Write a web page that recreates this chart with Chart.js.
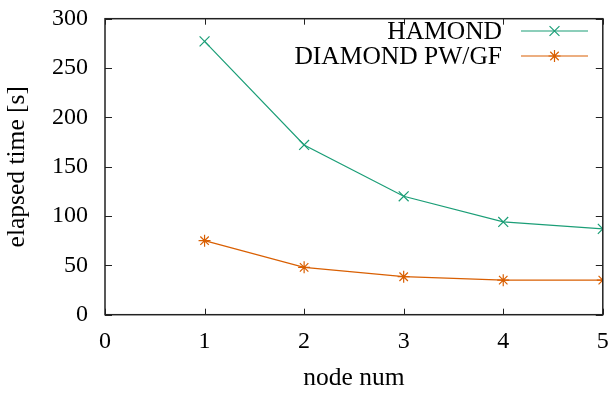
<!DOCTYPE html>
<html>
<head>
<meta charset="utf-8">
<script src="https://cdn.jsdelivr.net/npm/chart.js@4.4.1/dist/chart.umd.min.js"></script>
<style>
    html, body { margin: 0; padding: 0; background: #fff; }
    #wrap { width: 611px; height: 394px; }
</style>
</head>
<body>
<div id="wrap"><canvas id="chart"></canvas></div>
<script>
// data
const nodeNums = [1, 2, 3, 4, 5];
const hamondTimes = [277, 172, 120, 94, 87];
const diamondTimes = [75, 48, 38.5, 35, 35];
const seriesNames = ['HAMOND', 'DIAMOND PW/GF'];
const xTicks = [0, 1, 2, 3, 4, 5];
const yTicks = [0, 50, 100, 150, 200, 250, 300];

const FONT = "'Liberation Serif', 'DejaVu Serif', serif";
const TICK_SIZE = 24;
const TEXT_SIZE = 25.5;
const GREEN = '#1b9e77';
const ORANGE = '#d95f02';
const AXIS = '#222';

// gnuplot style frame: full box with inward ticks on every side
const framePlugin = {
    id: 'frame',
    afterDatasetsDraw(chart) {
        const { ctx, chartArea: a, scales } = chart;
        ctx.save();
        ctx.strokeStyle = AXIS;
        ctx.lineWidth = 1;
        ctx.beginPath();
        xTicks.forEach(v => {
            const px = Math.round(scales.x.getPixelForValue(v)) + 0.5;
            ctx.moveTo(px, a.bottom); ctx.lineTo(px, a.bottom - 6);
            ctx.moveTo(px, a.top); ctx.lineTo(px, a.top + 6);
        });
        yTicks.forEach(v => {
            const py = Math.round(scales.y.getPixelForValue(v)) + 0.5;
            ctx.moveTo(a.left, py); ctx.lineTo(a.left + 7, py);
            ctx.moveTo(a.right, py); ctx.lineTo(a.right - 7, py);
        });
        ctx.stroke();
        ctx.lineWidth = 1.5;
        ctx.strokeRect(a.left, a.top, a.right - a.left, a.bottom - a.top);
        ctx.restore();
    }
};

// legend like gnuplot: right aligned text, line sample with marker to the right
const keyPlugin = {
    id: 'key',
    afterDraw(chart) {
        const { ctx } = chart;
        ctx.save();
        ctx.font = TEXT_SIZE + 'px ' + FONT;
        ctx.textAlign = 'right';
        ctx.textBaseline = 'middle';
        chart.data.datasets.forEach((ds, i) => {
            const y = 31 + i * 25;
            ctx.fillStyle = '#000';
            ctx.fillText(ds.label, 502, y + 1);
            ctx.strokeStyle = ds.borderColor;
            ctx.lineWidth = 1.2;
            ctx.beginPath();
            ctx.moveTo(521, y); ctx.lineTo(588, y);
            ctx.stroke();
            Chart.helpers.drawPoint(ctx, {
                pointStyle: ds.pointStyle, radius: ds.pointRadius,
                rotation: 0, borderWidth: 1.2
            }, 554.5, y);
        });
        ctx.restore();
    }
};

new Chart(document.getElementById('chart'), {
    type: 'line',
    data: {
        datasets: [
            {
                label: seriesNames[0],
                data: nodeNums.map((n, i) => ({ x: n, y: hamondTimes[i] })),
                borderColor: GREEN,
                backgroundColor: GREEN,
                borderWidth: 1.2,
                pointStyle: 'crossRot',
                pointRadius: 7,
                pointBorderWidth: 1.2
            },
            {
                label: seriesNames[1],
                data: nodeNums.map((n, i) => ({ x: n, y: diamondTimes[i] })),
                borderColor: ORANGE,
                backgroundColor: ORANGE,
                borderWidth: 1.2,
                pointStyle: 'star',
                pointRadius: 6,
                pointBorderWidth: 1.2
            }
        ]
    },
    plugins: [framePlugin, keyPlugin],
    options: {
        responsive: true,
        maintainAspectRatio: false,
        animation: false,
        events: [],
        layout: { padding: { top: 18.7, right: 7, left: 0, bottom: 0 } },
        plugins: {
            legend: { display: false },
            tooltip: { enabled: false }
        },
        scales: {
            x: {
                type: 'linear',
                min: 0, max: 5,
                afterBuildTicks(scale) { scale.ticks = xTicks.map(v => ({ value: v })); },
                afterFit(scale) {
                    scale.height = 79.3;
                    scale.paddingLeft = 0; scale.paddingRight = 0;
                },
                grid: { display: false, drawTicks: false },
                border: { display: false },
                ticks: {
                    color: '#000', padding: 13, maxRotation: 0,
                    font: { family: FONT, size: TICK_SIZE }
                },
                title: {
                    display: true, text: 'node num', color: '#000',
                    font: { family: FONT, size: TEXT_SIZE },
                    padding: { top: 0, bottom: 0 }
                }
            },
            y: {
                min: 0, max: 300,
                afterBuildTicks(scale) { scale.ticks = yTicks.map(v => ({ value: v })); },
                afterFit(scale) {
                    scale.width = 105;
                    scale.paddingTop = 0; scale.paddingBottom = 0;
                },
                grid: { display: false, drawTicks: false },
                border: { display: false },
                ticks: {
                    color: '#000', padding: 17,
                    font: { family: FONT, size: TICK_SIZE }
                },
                title: {
                    display: true, text: 'elapsed time [s]', color: '#000',
                    font: { family: FONT, size: TEXT_SIZE },
                    padding: { top: 2, bottom: 0 }
                }
            }
        }
    }
});
</script>
</body>
</html>
